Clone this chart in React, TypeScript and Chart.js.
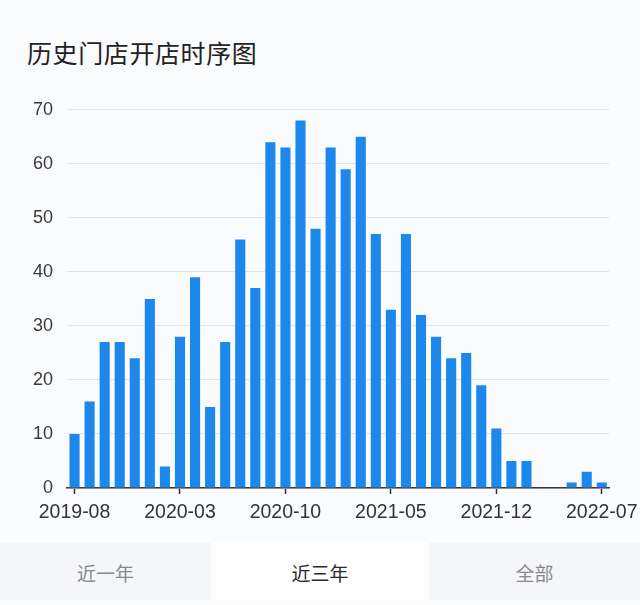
import React, { useEffect, useRef } from "react";
import { Chart, registerables } from "chart.js";

Chart.register(...registerables);

const TITLE = "历史门店开店时序图";
const months = [
  "2019-08", "2019-09", "2019-10", "2019-11", "2019-12",
  "2020-01", "2020-02", "2020-03", "2020-04", "2020-05", "2020-06", "2020-07", "2020-08", "2020-09", "2020-10", "2020-11", "2020-12",
  "2021-01", "2021-02", "2021-03", "2021-04", "2021-05", "2021-06", "2021-07", "2021-08", "2021-09", "2021-10", "2021-11", "2021-12",
  "2022-01", "2022-02", "2022-03", "2022-04", "2022-05", "2022-06", "2022-07",
];
const openings = [
  10, 16, 27, 27, 24,
  35, 4, 28, 39, 15, 27, 46, 37, 64, 63, 68, 48,
  63, 59, 65, 47, 33, 47, 32, 28, 24, 25, 19, 11,
  5, 5, 0, 0, 1, 3, 1,
];
const yTicks = [0, 10, 20, 30, 40, 50, 60, 70];
const tabs = ["近一年", "近三年", "全部"];
const activeTab = 1;
const LABEL_EVERY = 7;

const FONT = "'Liberation Sans', 'Noto Sans CJK SC', Arial, sans-serif";
const CJK = "'Noto Sans CJK SC', 'Noto Sans', sans-serif";

export default function App() {
  const ref = useRef<HTMLCanvasElement | null>(null);

  useEffect(() => {
    document.body.style.margin = "0";
    const chart = new Chart(ref.current as HTMLCanvasElement, {
      type: "bar",
      data: {
        labels: months,
        datasets: [
          {
            data: openings,
            backgroundColor: "#1c88ec",
            barPercentage: 0.67,
            categoryPercentage: 1,
          },
        ],
      },
      options: {
        animation: false,
        responsive: false,
        maintainAspectRatio: false,
        layout: { padding: { top: 10, right: 32, left: 0, bottom: 0 } },
        plugins: { legend: { display: false }, tooltip: { enabled: false } },
        scales: {
          x: {
            offset: true,
            grid: {
              offset: false,
              drawOnChartArea: false,
              drawTicks: true,
              tickLength: 6,
              tickWidth: 1.5,
              tickColor: (c: any) => (c.index % LABEL_EVERY === 0 ? "#333" : "rgba(0,0,0,0)"),
            },
            border: { display: true, color: "#3a3a3a", width: 1.5 },
            ticks: {
              autoSkip: false,
              maxRotation: 0,
              minRotation: 0,
              padding: 7,
              color: "#333",
              font: { family: FONT, size: 19.5 },
              callback: (_v: any, i: number) => (i % LABEL_EVERY === 0 ? months[i] : ""),
            },
            afterFit: (s: any) => {
              s.height = 42;
            },
          },
          y: {
            min: yTicks[0],
            max: yTicks[yTicks.length - 1],
            afterBuildTicks: (s: any) => {
              s.ticks = yTicks.map((v) => ({ value: v }));
            },
            grid: { color: "#e1e4ea", lineWidth: 1, drawTicks: false },
            border: { display: false },
            ticks: {
              padding: 14,
              color: "#3a3a3a",
              font: { family: FONT, size: 18 },
            },
            afterFit: (s: any) => {
              s.width = 67;
            },
          },
        },
      },
    });
    return () => chart.destroy();
  }, []);

  return (
    <div style={{ position: "relative", width: 640, height: 605, background: "#fafbfd", overflow: "hidden" }}>
      <div
        style={{
          position: "absolute",
          left: 27,
          top: 34,
          fontFamily: CJK,
          fontSize: 25,
          fontWeight: 400,
          color: "#222",
          lineHeight: "36px",
          letterSpacing: 0.6,
        }}
      >
        {TITLE}
      </div>
      <canvas ref={ref} width={645} height={445} style={{ position: "absolute", left: 0, top: 85, width: 645, height: 445 }} />
      <div style={{ position: "absolute", left: 0, top: 543, width: 640, height: 57, display: "flex" }}>
        {tabs.map((t, i) => (
          <div
            key={t}
            style={{
              width: i === 0 ? 211 : i === 1 ? 218 : 211,
              height: 57,
              background: i === activeTab ? "#ffffff" : "#f5f6fa",
              display: "flex",
              alignItems: "center",
              justifyContent: "center",
              fontFamily: CJK,
              fontSize: 19,
              color: i === activeTab ? "#2a2a2a" : "#888",
              paddingTop: 1,
              boxSizing: "border-box",
            }}
          >
            {t}
          </div>
        ))}
      </div>
    </div>
  );
}
